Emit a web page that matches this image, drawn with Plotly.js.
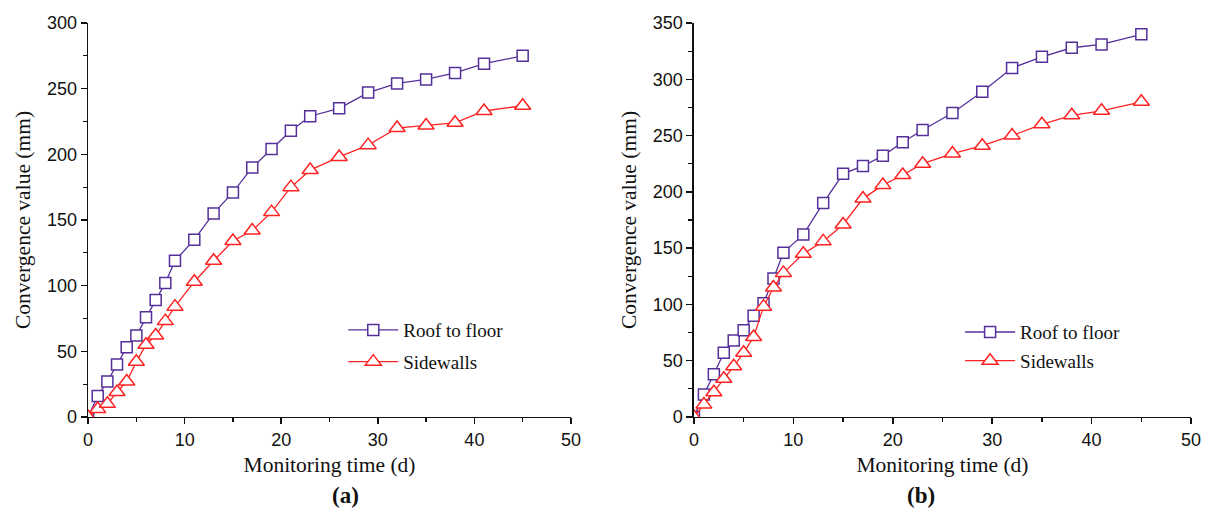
<!DOCTYPE html>
<html>
<head>
<meta charset="utf-8">
<script src="https://cdn.plot.ly/plotly-3.0.1.min.js"></script>
<style>
  html, body { margin: 0; padding: 0; background: #fff; }
  #chart { width: 1213px; height: 510px; }
</style>
</head>
<body>
<div id="chart"></div>
<script>
// Panel (a)
const timeA = [0, 1, 2, 3, 4, 5, 6, 7, 8, 9, 11, 13, 15, 17, 19, 21, 23, 26, 29, 32, 35, 38, 41, 45];
const roofA = [0, 16, 27, 40, 53, 62, 76, 89, 102, 119, 135, 155, 171, 190, 204, 218, 229, 235, 247, 254, 257, 262, 269, 275];
const sideA = [0, 6, 10, 19, 27, 42, 55, 62, 73, 84, 103, 119, 134, 142, 156, 175, 188, 198, 207, 220, 222, 224, 233, 237];

// Panel (b)
const timeB = [0, 1, 2, 3, 4, 5, 6, 7, 8, 9, 11, 13, 15, 17, 19, 21, 23, 26, 29, 32, 35, 38, 41, 45];
const roofB = [0, 20, 38, 57, 68, 77, 90, 101, 123, 146, 162, 190, 216, 223, 232, 244, 255, 270, 289, 310, 320, 328, 331, 340];
const sideB = [0, 11, 22, 34, 45, 57, 71, 98, 115, 128, 145, 156, 171, 194, 206, 215, 225, 234, 241, 250, 260, 268, 272, 280];

const seriesNames = ["Roof to floor", "Sidewalls"];
const panelLabels = ["(a)", "(b)"];
const xTitle = "Monitoring time (d)";
const yTitle = "Convergence value (mm)";

const purple = "#55309a";
const red = "#ff2222";

function roofTrace(x, y, xa, ya, leg) {
  return {
    x: x, y: y, xaxis: xa, yaxis: ya, legend: leg, legendgroup: leg + "roof",
    name: seriesNames[0], mode: "lines+markers", type: "scatter",
    line: { color: purple, width: 1.3 },
    marker: { symbol: "square", size: 11, color: "#ffffff", line: { color: purple, width: 1.5 } },
    cliponaxis: true
  };
}
function sideTrace(x, y, xa, ya, leg) {
  return {
    x: x, y: y, xaxis: xa, yaxis: ya, legend: leg, legendgroup: leg + "side",
    name: seriesNames[1], mode: "lines+markers", type: "scatter",
    line: { color: red, width: 1.3 },
    marker: { symbol: "triangle-up", size: 14, color: "#ffffff", line: { color: red, width: 1.5 } },
    cliponaxis: true
  };
}

const data = [
  roofTrace(timeA, roofA, "x", "y", "legend"),
  sideTrace(timeA, sideA, "x", "y", "legend"),
  roofTrace(timeB, roofB, "x2", "y2", "legend2"),
  sideTrace(timeB, sideB, "x2", "y2", "legend2")
];

const tickFont = { family: "Arial, Liberation Sans, sans-serif", size: 18, color: "#111" };
const titleFont = { family: "Liberation Serif, Times New Roman, serif", size: 21.5, color: "#111" };

function xAxis(domain, anchor) {
  return {
    domain: domain, anchor: anchor, range: [0, 50], dtick: 10, tick0: 0,
    showgrid: false, zeroline: false, showline: true, linecolor: "#111", linewidth: 1.5,
    ticks: "outside", ticklen: 6, tickwidth: 1.5, tickcolor: "#111",
    minor: { ticks: "outside", ticklen: 4, dtick: 5, tickwidth: 1.2, tickcolor: "#111", showgrid: false },
    tickfont: tickFont,
    title: { text: xTitle, font: titleFont, standoff: 8 }
  };
}
function yAxis(domain, anchor, max) {
  return {
    domain: domain, anchor: anchor, range: [0, max], dtick: 50, tick0: 0,
    showgrid: false, zeroline: false, showline: true, linecolor: "#111", linewidth: 1.5,
    ticks: "outside", ticklen: 6, tickwidth: 1.5, tickcolor: "#111",
    minor: { ticks: "outside", ticklen: 4, dtick: 25, tickwidth: 1.2, tickcolor: "#111", showgrid: false },
    tickfont: tickFont,
    title: { text: yTitle, font: titleFont, standoff: 10 }
  };
}

const yDom = [0.1824, 0.9549];
const legendFont = { family: "Liberation Serif, Times New Roman, serif", size: 19, color: "#111" };

const layout = {
  width: 1213, height: 510,
  margin: { l: 0, r: 0, t: 0, b: 0 },
  paper_bgcolor: "#ffffff", plot_bgcolor: "#ffffff",
  showlegend: true,
  xaxis: xAxis([0.0726, 0.4707], "y"),
  yaxis: yAxis(yDom, "x", 300),
  xaxis2: xAxis([0.5721, 0.9819], "y2"),
  yaxis2: yAxis(yDom, "x2", 350),
  legend: {
    x: 0.283, y: 0.39, xanchor: "left", yanchor: "top", traceorder: "grouped",
    bgcolor: "rgba(0,0,0,0)", font: legendFont, tracegroupgap: 4, itemwidth: 50
  },
  legend2: {
    x: 0.7915, y: 0.386, xanchor: "left", yanchor: "top", traceorder: "grouped",
    bgcolor: "rgba(0,0,0,0)", font: legendFont, tracegroupgap: 1, itemwidth: 50
  },
  annotations: [
    { text: "<b>" + panelLabels[0] + "</b>", xref: "paper", yref: "paper", x: 0.272, y: 0.029,
      yanchor: "middle", showarrow: false,
      font: { family: "Liberation Serif, Times New Roman, serif", size: 23, color: "#111" } },
    { text: "<b>" + panelLabels[1] + "</b>", xref: "paper", yref: "paper", x: 0.7725, y: 0.029,
      yanchor: "middle", showarrow: false,
      font: { family: "Liberation Serif, Times New Roman, serif", size: 23, color: "#111" } }
  ]
};

Plotly.newPlot("chart", data, layout, { displayModeBar: false, staticPlot: true });
</script>
</body>
</html>
